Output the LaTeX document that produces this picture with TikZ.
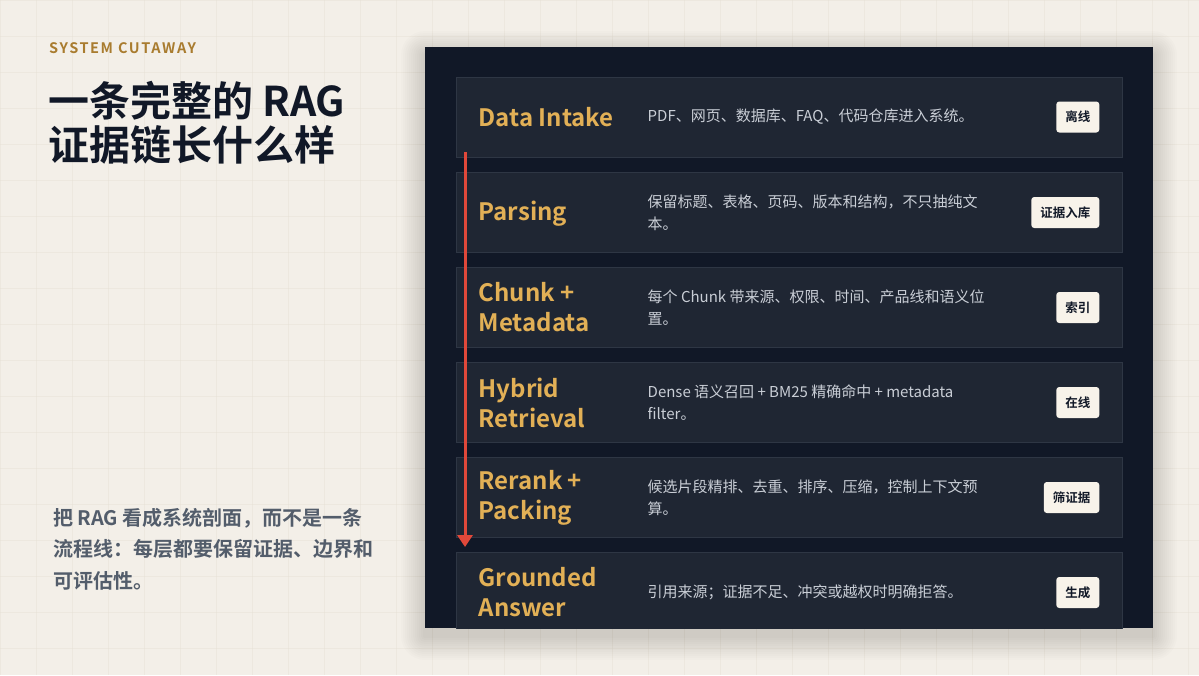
\documentclass[tikz,border=0pt]{standalone}
\usepackage{fontspec}
\setmainfont{Noto Sans CJK SC}[BoldFont={Noto Sans CJK SC Bold}]
\newfontfamily\kickerfont{Noto Sans CJK SC Bold}[LetterSpace=11]
\usetikzlibrary{arrows.meta}
\definecolor{paper}{HTML}{F3EFE8}
\definecolor{gridc}{HTML}{E6E0D6}
\definecolor{panelc}{HTML}{111827}
\definecolor{rowfill}{HTML}{1F2633}
\definecolor{rowline}{HTML}{2E3644}
\definecolor{gold}{HTML}{E2B056}
\definecolor{notegray}{HTML}{C9CED6}
\definecolor{cream}{HTML}{F8F3EA}
\definecolor{ink}{HTML}{111827}
\definecolor{arrowred}{HTML}{E0483A}
\definecolor{kickc}{HTML}{A97C2F}
\definecolor{ledec}{HTML}{535D6B}
\begin{document}
\begin{tikzpicture}[x=1pt, y=-1pt,
  row/.style = {draw=rowline, fill=rowfill, line width=1pt, minimum width=666pt, minimum height=80pt, inner sep=0pt},
  stage/.style = {anchor=west, text=gold, font=\fontsize{24}{30}\selectfont\bfseries, align=left, inner sep=0pt},
  note/.style = {anchor=west, text=notegray, font=\fontsize{15}{22}\selectfont, align=left, inner sep=0pt},
  tag/.style = {anchor=east, fill=cream, rounded corners=3pt, minimum height=31pt, inner xsep=9pt, inner ysep=0pt, text=ink, font=\fontsize{12.5}{14}\selectfont\bfseries},
  flow/.style = {draw=arrowred, line width=3pt, -{Triangle[length=12pt, width=15pt]}}]
	\useasboundingbox (0,0) rectangle (1199,675);
	\fill[paper] (0,0) rectangle (1199,675);
	\foreach \gx in {0,36,...,1199} \draw[gridc, line width=0.5pt, opacity=0.45] (\gx,0) -- (\gx,675);
	\foreach \gy in {0,36,...,675} \draw[gridc, line width=0.5pt, opacity=0.45] (0,\gy) -- (1199,\gy);
	
	% left column
	\node[anchor=west, inner sep=0pt, text=kickc, font=\fontsize{14.5}{16}\kickerfont] (kick) at (49,48) {SYSTEM CUTAWAY};
	\node[anchor=west, inner sep=0pt, text=ink, align=left, font=\fontsize{41}{44}\selectfont\bfseries] (head) at (48,123) {一条完整的 RAG\\证据链长什么样};
	\node[anchor=west, inner sep=0pt, text=ledec, align=left, font=\fontsize{20}{31.5}\selectfont\bfseries] (lede) at (53,549) {把 RAG 看成系统剖面，而不是一条\\流程线：每层都要保留证据、边界和\\可评估性。};
	
	% soft shadow under the panel
	\foreach \s in {2,4,...,24}
		\fill[black, opacity=0.013, rounded corners=\s pt] (425-\s,47-\s+8) rectangle (1153+\s,628+\s+8);
	
	% panel
	\node[fill=panelc, minimum width=728pt, minimum height=581pt, inner sep=0pt] (panel) at (789,337.5) {};
	
	\begin{scope}
		\clip (panel.north west) rectangle (panel.south east);
		\node[row] (r1) at (789,117) {};
		\node[row] (r2) at (789,212.5) {};
		\node[row] (r3) at (789,307.5) {};
		\node[row] (r4) at (789,402.5) {};
		\node[row] (r5) at (789,497.5) {};
		\node[row] (r6) at (789,592.5) {};
	\end{scope}
	
	\node[stage] (t1) at ([xshift=23pt]r1.west) {Data Intake};
	\node[stage] (t2) at ([xshift=23pt, yshift=-1.5pt]r2.west) {Parsing};
	\node[stage] (t3) at ([xshift=23pt]r3.west) {Chunk +\\Metadata};
	\node[stage] (t4) at ([xshift=23pt]r4.west) {Hybrid\\Retrieval};
	\node[stage] (t5) at ([xshift=23pt]r5.west) {Rerank +\\Packing};
	\node[stage] (t6) at ([xshift=23pt]r6.west) {Grounded\\Answer};
	
	\node[note] (d1) at ([xshift=192pt]r1.west) {PDF、网页、数据库、FAQ、代码仓库进入系统。};
	\node[note] (d2) at ([xshift=192pt]r2.west) {保留标题、表格、页码、版本和结构，不只抽纯文\\本。};
	\node[note] (d3) at ([xshift=192pt]r3.west) {每个 Chunk 带来源、权限、时间、产品线和语义位\\置。};
	\node[note] (d4) at ([xshift=192pt]r4.west) {Dense 语义召回 + BM25 精确命中 + metadata\\filter。};
	\node[note] (d5) at ([xshift=192pt]r5.west) {候选片段精排、去重、排序、压缩，控制上下文预\\算。};
	\node[note] (d6) at ([xshift=192pt]r6.west) {引用来源；证据不足、冲突或越权时明确拒答。};
	
	\node[tag] (b1) at ([xshift=-23pt]r1.east) {离线};
	\node[tag] (b2) at ([xshift=-23pt]r2.east) {证据入库};
	\node[tag] (b3) at ([xshift=-23pt]r3.east) {索引};
	\node[tag] (b4) at ([xshift=-23pt]r4.east) {在线};
	\node[tag] (b5) at ([xshift=-23pt]r5.east) {筛证据};
	\node[tag] (b6) at ([xshift=-23pt]r6.east) {生成};
	
	% evidence flow
	\coordinate (flowtop) at (465,152);
	\coordinate (flowend) at (465,547);
	\draw[flow] (flowtop) -- (flowend);
	
\end{tikzpicture}
\end{document}
